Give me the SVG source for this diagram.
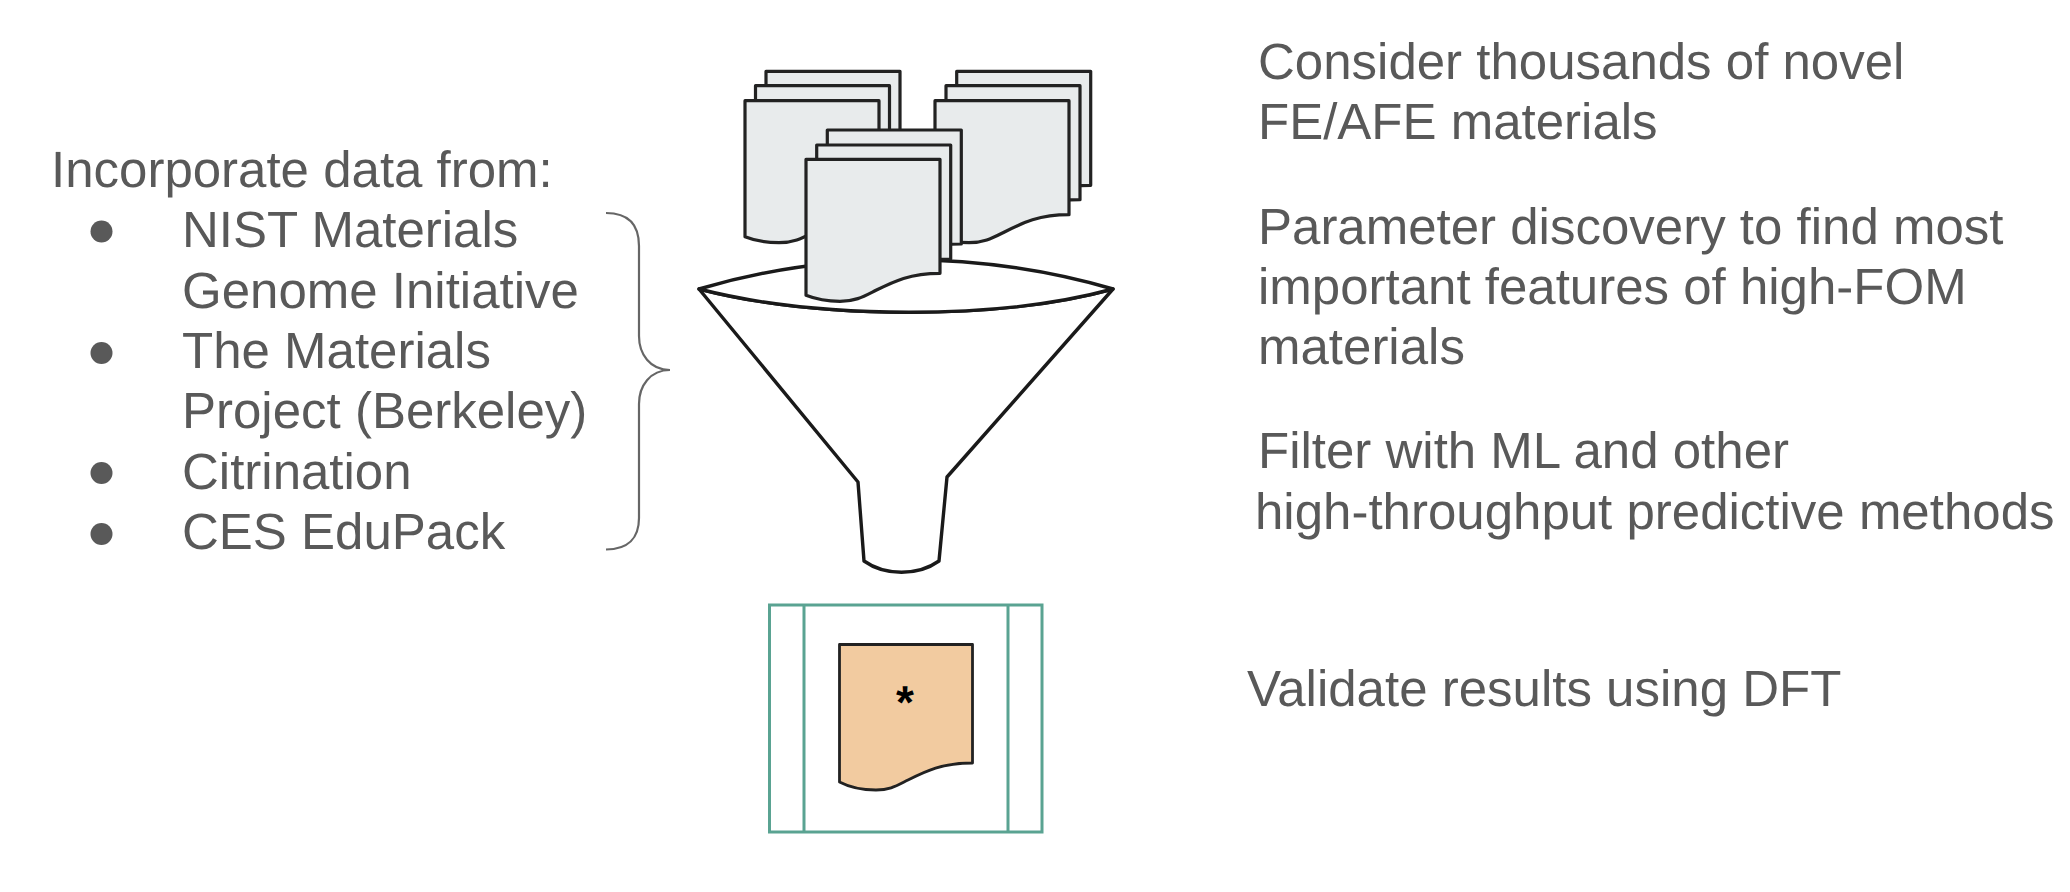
<svg xmlns="http://www.w3.org/2000/svg" width="2070" height="892" viewBox="0 0 2070 892">
<style>
text{font-family:"Liberation Sans",Arial,sans-serif;font-size:51px;fill:#595959;text-rendering:geometricPrecision}
.doc{fill:#e8ebec;stroke:#222;stroke-width:3.2;stroke-linejoin:round}
.fun{fill:#fff;stroke:#1a1a1a;stroke-width:3.4;stroke-linejoin:round}
.grn{fill:none;stroke:#5aa392;stroke-width:3}
</style>
<defs>
<path id="d" d="M0,0H134V114C104,114 88,122 70,131C58,137 50,142 34,142C20,142 10,140 0,136Z"/>
</defs>
<rect width="2070" height="892" fill="#fff"/>
<g id="connectors">
<path d="M606,213C628,213 639,224 639,246V336C639,354 650,370 670,370C650,370 639,386 639,404V518C639,538 628,549.5 606,549.5" fill="none" stroke="#666" stroke-width="2.2"/>
</g>
<g id="funnel">
<path class="fun" d="M699,289L858,482L864,561C885,576 918,576 939,561L947,477L1113,289C1000,320 820,320 699,289Z"/>
<path class="fun" d="M699,289C830,250 980,250 1113,289C1000,320 820,320 699,289Z"/>
</g>
<g id="docs-left" class="doc">
<use href="#d" x="766" y="71.3"/><use href="#d" x="755.5" y="85.7"/><use href="#d" x="745" y="100.7"/>
</g>
<g id="docs-right" class="doc">
<use href="#d" x="956.7" y="71.3"/><use href="#d" x="946" y="85.7"/><use href="#d" x="935" y="100.7"/>
</g>
<g id="docs-center" class="doc">
<use href="#d" x="827.3" y="130"/><use href="#d" x="816.7" y="145"/><use href="#d" x="806" y="159.3"/>
</g>
<g id="result">
<rect class="grn" x="769.5" y="605" width="272.5" height="227"/>
<path class="grn" d="M804,605V832M1008,605V832"/>
<path d="M839.5,644.5H972.5V763C942,763 926,771 908,780C896,786 890,790 876,790C862,790 851,788 839.5,782Z" fill="#f2cba0" stroke="#222" stroke-width="2.8" stroke-linejoin="round"/>
<text x="905" y="718" text-anchor="middle" style="fill:#000;font-size:46px;font-weight:bold">*</text>
</g>
<g id="sources">
<text x="51" y="187">Incorporate data from:</text>
<circle cx="101.5" cy="231.5" r="11" fill="#595959"/>
<circle cx="101.5" cy="353" r="11" fill="#595959"/>
<circle cx="101.5" cy="473" r="11" fill="#595959"/>
<circle cx="101.5" cy="534" r="11" fill="#595959"/>
<text x="182" y="247">NIST Materials</text>
<text x="182" y="307.5">Genome Initiative</text>
<text x="182" y="367.5">The Materials</text>
<text x="182" y="428">Project (Berkeley)</text>
<text x="182" y="488.5">Citrination</text>
<text x="182" y="549">CES EduPack</text>
</g>
<g id="captions">
<text x="1258" y="79">Consider thousands of novel</text>
<text x="1258" y="139">FE/AFE materials</text>
<text x="1258" y="244">Parameter discovery to find most</text>
<text x="1258" y="304">important features of high-FOM</text>
<text x="1258" y="364">materials</text>
<text x="1258" y="468">Filter with ML and other</text>
<text x="1255" y="528.5">high-throughput predictive methods</text>
<text x="1247" y="706">Validate results using DFT</text>
</g>
</svg>
